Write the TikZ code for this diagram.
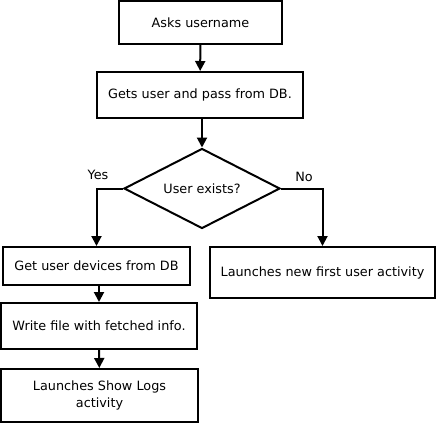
\documentclass[tikz,border=0pt]{standalone}
\usepackage{fontspec}
\setmainfont{DejaVu Sans}
\usetikzlibrary{shapes.geometric,arrows.meta}

\begin{document}
\begin{tikzpicture}[x=1pt,y=-1pt,
	every node/.style={font=\fontsize{12.8}{16.5}\selectfont},
	stepbox/.style={draw, line width=2pt, inner sep=0pt, align=center},
	choice/.style={draw, diamond, aspect=2, line width=2pt, inner sep=0pt, minimum width=156pt, minimum height=80pt},
	arr/.style={-{Triangle[length=10pt,width=10pt]}, line width=2pt}]
	% Frame
	\useasboundingbox (0,0) rectangle (438,425);

	% Steps
	\node[stepbox, minimum width=163pt, minimum height=43pt] (ask) at (200.5,22.5) {Asks username};
	\node[stepbox, minimum width=206pt, minimum height=46pt] (gets) at (200,95) {Gets user and pass from DB.};
	\node[choice] (exists) at (202,188.5) {User exists?};
	\node[stepbox, minimum width=187pt, minimum height=38pt] (devices) at (96.5,266) {Get user devices from DB};
	\node[stepbox, minimum width=225pt, minimum height=51pt] (first) at (322.5,272.5) {Launches new first user activity};
	\node[stepbox, minimum width=196pt, minimum height=46pt] (write) at (99,326) {Write file with fetched info.};
	\node[stepbox, minimum width=197pt, minimum height=53pt] (logs) at (99.5,395.5) {Launches Show Logs\\activity};

	% Connectors
	\draw[arr] (ask) -- (gets);
	\draw[arr] (gets.south -| exists.north) -- (exists);
	\draw[arr] (exists.west) -| (devices);
	\draw[arr] (exists.east) -| (first);
	\draw[arr] (devices.south -| write.north) -- (write);
	\draw[arr] (write) -- (logs);

	% Branch labels
	\node (yes) at (98,175) {Yes};
	\node (no) at (304,177) {No};
\end{tikzpicture}
\end{document}
